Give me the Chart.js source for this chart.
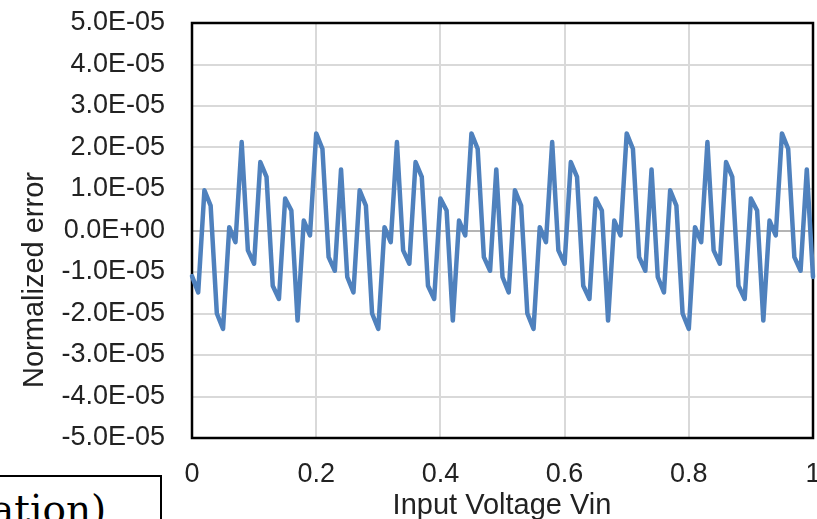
<!DOCTYPE html>
<html>
<head>
<meta charset="utf-8">
<script src="https://cdn.jsdelivr.net/npm/chart.js@4"></script>
<style>
  body { margin: 0; background: #fff; overflow: hidden; }
  #wrap { position: relative; width: 817px; height: 519px; }
  #errPlot { position: absolute; left: 0; top: 0; }
  #capBox {
    position: absolute; left: -10px; top: 475px; width: 168px; height: 60px;
    border: 2px solid #000; background: #fff;
  }
  #capText {
    position: absolute; left: -9px; top: 490px;
    font-family: "DejaVu Serif", "Liberation Serif", serif; font-size: 39px;
    color: #000; white-space: nowrap; line-height: 1;
  }
</style>
</head>
<body>
<div id="wrap">
  <canvas id="errPlot" width="817" height="519"></canvas>
  <div id="capBox"></div>
  <div id="capText">ation)</div>
</div>
<script>
// input voltage, 0..1 in steps of 0.01
const vin = [
  0.00, 0.01, 0.02, 0.03, 0.04, 0.05, 0.06, 0.07, 0.08, 0.09,
  0.10, 0.11, 0.12, 0.13, 0.14, 0.15, 0.16, 0.17, 0.18, 0.19,
  0.20, 0.21, 0.22, 0.23, 0.24, 0.25, 0.26, 0.27, 0.28, 0.29,
  0.30, 0.31, 0.32, 0.33, 0.34, 0.35, 0.36, 0.37, 0.38, 0.39,
  0.40, 0.41, 0.42, 0.43, 0.44, 0.45, 0.46, 0.47, 0.48, 0.49,
  0.50, 0.51, 0.52, 0.53, 0.54, 0.55, 0.56, 0.57, 0.58, 0.59,
  0.60, 0.61, 0.62, 0.63, 0.64, 0.65, 0.66, 0.67, 0.68, 0.69,
  0.70, 0.71, 0.72, 0.73, 0.74, 0.75, 0.76, 0.77, 0.78, 0.79,
  0.80, 0.81, 0.82, 0.83, 0.84, 0.85, 0.86, 0.87, 0.88, 0.89,
  0.90, 0.91, 0.92, 0.93, 0.94, 0.95, 0.96, 0.97, 0.98, 0.99,
  1.00
];

// normalized error at each vin
const normErr = [
  -1.10e-5, -1.49e-5, 0.97e-5, 0.60e-5, -2.00e-5, -2.37e-5, 0.08e-5, -0.28e-5, 2.13e-5, -0.48e-5,
  -0.80e-5, 1.65e-5, 1.29e-5, -1.33e-5, -1.65e-5, 0.77e-5, 0.48e-5, -2.17e-5, 0.24e-5, -0.12e-5,
  2.34e-5, 1.97e-5, -0.64e-5, -0.97e-5, 1.47e-5, -1.12e-5, -1.49e-5, 0.97e-5, 0.60e-5, -2.00e-5,
  -2.37e-5, 0.08e-5, -0.28e-5, 2.13e-5, -0.48e-5, -0.80e-5, 1.65e-5, 1.29e-5, -1.33e-5, -1.65e-5,
  0.77e-5, 0.48e-5, -2.17e-5, 0.24e-5, -0.12e-5, 2.34e-5, 1.97e-5, -0.64e-5, -0.97e-5, 1.47e-5,
  -1.12e-5, -1.49e-5, 0.97e-5, 0.60e-5, -2.00e-5, -2.37e-5, 0.08e-5, -0.28e-5, 2.13e-5, -0.48e-5,
  -0.80e-5, 1.65e-5, 1.29e-5, -1.33e-5, -1.65e-5, 0.77e-5, 0.48e-5, -2.17e-5, 0.24e-5, -0.12e-5,
  2.34e-5, 1.97e-5, -0.64e-5, -0.97e-5, 1.47e-5, -1.12e-5, -1.49e-5, 0.97e-5, 0.60e-5, -2.00e-5,
  -2.37e-5, 0.08e-5, -0.28e-5, 2.13e-5, -0.48e-5, -0.80e-5, 1.65e-5, 1.29e-5, -1.33e-5, -1.65e-5,
  0.77e-5, 0.48e-5, -2.17e-5, 0.24e-5, -0.12e-5, 2.34e-5, 1.97e-5, -0.64e-5, -0.97e-5, 1.47e-5,
  -1.12e-5
];

const xTickValues = [0, 0.2, 0.4, 0.6, 0.8, 1];
const xTickLabels = ['0', '0.2', '0.4', '0.6', '0.8', '1'];
const yTickValues = [-5e-5, -4e-5, -3e-5, -2e-5, -1e-5, 0, 1e-5, 2e-5, 3e-5, 4e-5, 5e-5];
const yTickLabels = ['-5.0E-05', '-4.0E-05', '-3.0E-05', '-2.0E-05', '-1.0E-05', '0.0E+00',
  '1.0E-05', '2.0E-05', '3.0E-05', '4.0E-05', '5.0E-05'];

const xTitle = 'Input Voltage Vin';
const yTitle = 'Normalized error';

const FONT = '"Liberation Sans", Arial, sans-serif';

// black frame under the line, axis titles on top
const framePlugin = {
  id: 'frameAndTitles',
  beforeDatasetsDraw(chart) {
    const { ctx, chartArea: a } = chart;
    ctx.save();
    ctx.strokeStyle = '#000';
    ctx.lineWidth = 2.5;
    ctx.strokeRect(a.left, a.top, a.right - a.left, a.bottom - a.top);
    ctx.restore();
  },
  afterDraw(chart) {
    const { ctx } = chart;
    ctx.save();
    ctx.fillStyle = '#222';
    ctx.font = '29px ' + FONT;
    ctx.textAlign = 'center';
    ctx.textBaseline = 'alphabetic';
    ctx.fillText(xTitle, 502, 514);
    ctx.translate(43, 280);
    ctx.rotate(-Math.PI / 2);
    ctx.fillText(yTitle, 0, 0);
    ctx.restore();
  }
};

new Chart(document.getElementById('errPlot'), {
  type: 'line',
  data: {
    datasets: [{
      data: vin.map((v, i) => ({ x: v, y: normErr[i] })),
      borderColor: '#4f81bd',
      borderWidth: 4.5,
      borderJoinStyle: 'round',
      borderCapStyle: 'round',
      pointRadius: 0,
      tension: 0,
      fill: false
    }]
  },
  options: {
    responsive: false,
    devicePixelRatio: 1,
    animation: false,
    clip: false,
    layout: { padding: { top: 23, right: 4, left: 0, bottom: 0 } },
    plugins: { legend: { display: false }, tooltip: { enabled: false } },
    scales: {
      x: {
        type: 'linear',
        min: 0,
        max: 1,
        afterBuildTicks: (axis) => { axis.ticks = xTickValues.map(v => ({ value: v })); },
        afterFit: (axis) => {
          axis.height = 81;
          axis.paddingLeft = 0;
          axis.paddingRight = 0;
        },
        grid: { color: '#d9d9d9', lineWidth: 2, drawTicks: false },
        border: { display: false },
        ticks: {
          padding: 20,
          maxRotation: 0,
          autoSkip: false,
          color: '#222',
          font: { family: FONT, size: 27 },
          callback: (v, i) => xTickLabels[i]
        }
      },
      y: {
        type: 'linear',
        min: -5e-5,
        max: 5e-5,
        afterBuildTicks: (axis) => { axis.ticks = yTickValues.map(v => ({ value: v })); },
        afterFit: (axis) => {
          axis.width = 192;
          axis.paddingTop = 0;
          axis.paddingBottom = 0;
        },
        grid: {
          color: (c) => (c.tick && c.tick.value === 0 ? '#b4b4b4' : '#d9d9d9'),
          lineWidth: 2,
          drawTicks: false
        },
        border: { display: false },
        ticks: {
          padding: 27,
          autoSkip: false,
          color: '#222',
          font: { family: FONT, size: 27 },
          callback: (v, i) => yTickLabels[i]
        }
      }
    }
  },
  plugins: [framePlugin]
});
</script>
</body>
</html>
